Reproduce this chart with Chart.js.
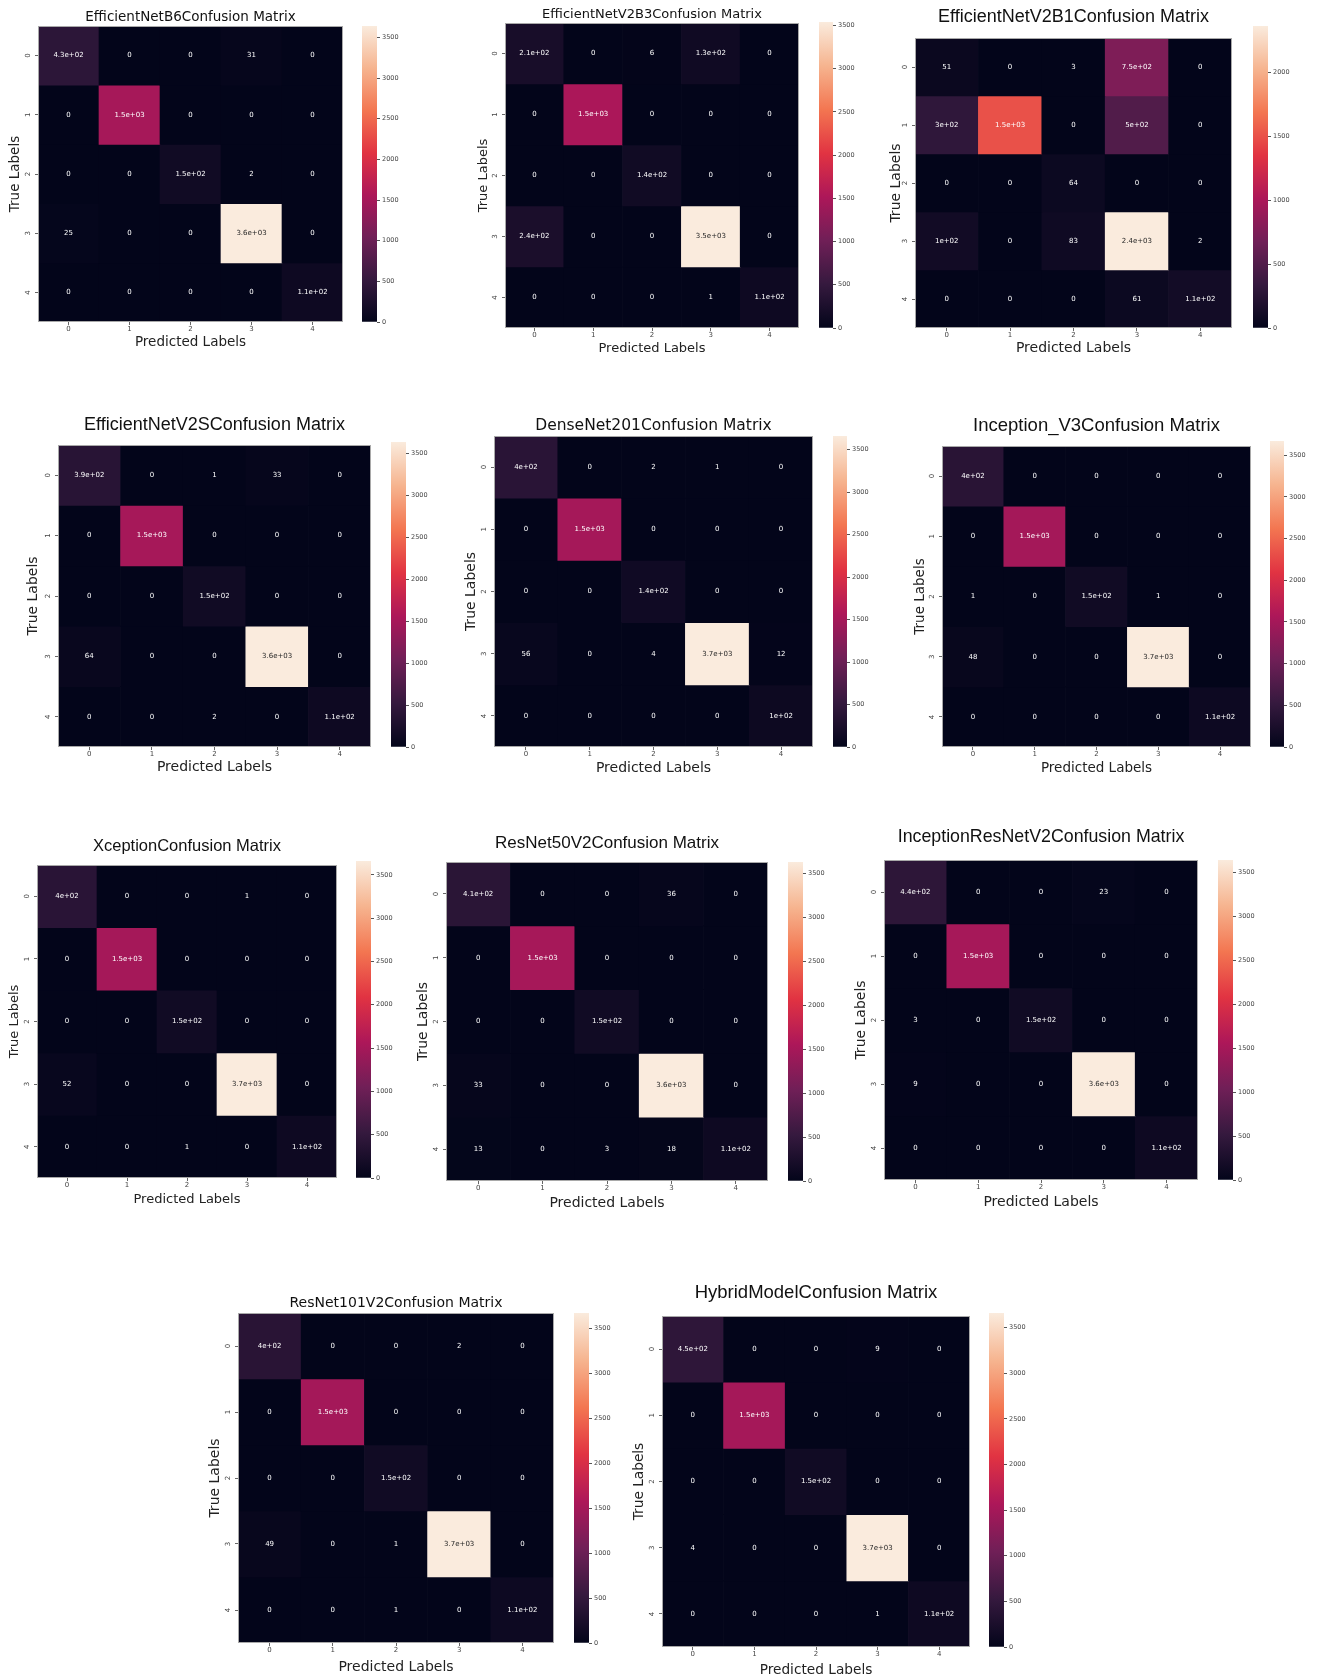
<!DOCTYPE html>
<html>
<head>
<meta charset="utf-8">
<title>Confusion matrices</title>
<script src="https://cdn.jsdelivr.net/npm/chart.js@4.4.1/dist/chart.umd.min.js"></script>
<style>
  html, body { margin: 0; padding: 0; background: #fff; }
  #page { position: relative; width: 1320px; height: 1679px; overflow: hidden; background: #fff; }
  #page canvas { position: absolute; }
</style>
</head>
<body>
<div id="page"></div>
<script>
// class ids on both axes
const classLabels = ['0', '1', '2', '3', '4'];
const colorbarStep = 500;

// rows = true label, columns = predicted label
const efficientNetB6 = [
    [430, 0, 0, 31, 0],
    [0, 1500, 0, 0, 0],
    [0, 0, 150, 2, 0],
    [25, 0, 0, 3640, 0],
    [0, 0, 0, 0, 110]
];
const efficientNetV2B3 = [
    [210, 0, 6, 130, 0],
    [0, 1500, 0, 0, 0],
    [0, 0, 140, 0, 0],
    [240, 0, 0, 3540, 0],
    [0, 0, 0, 1, 110]
];
const efficientNetV2B1 = [
    [51, 0, 3, 750, 0],
    [300, 1500, 0, 500, 0],
    [0, 0, 64, 0, 0],
    [100, 0, 83, 2360, 2],
    [0, 0, 0, 61, 110]
];
const efficientNetV2S = [
    [390, 0, 1, 33, 0],
    [0, 1500, 0, 0, 0],
    [0, 0, 150, 0, 0],
    [64, 0, 0, 3640, 0],
    [0, 0, 2, 0, 110]
];
const denseNet201 = [
    [400, 0, 2, 1, 0],
    [0, 1500, 0, 0, 0],
    [0, 0, 140, 0, 0],
    [56, 0, 4, 3660, 12],
    [0, 0, 0, 0, 100]
];
const inceptionV3 = [
    [400, 0, 0, 0, 0],
    [0, 1500, 0, 0, 0],
    [1, 0, 150, 1, 0],
    [48, 0, 0, 3670, 0],
    [0, 0, 0, 0, 110]
];
const xception = [
    [400, 0, 0, 1, 0],
    [0, 1500, 0, 0, 0],
    [0, 0, 150, 0, 0],
    [52, 0, 0, 3660, 0],
    [0, 0, 1, 0, 110]
];
const resNet50V2 = [
    [410, 0, 0, 36, 0],
    [0, 1500, 0, 0, 0],
    [0, 0, 150, 0, 0],
    [33, 0, 0, 3630, 0],
    [13, 0, 3, 18, 110]
];
const inceptionResNetV2 = [
    [440, 0, 0, 23, 0],
    [0, 1500, 0, 0, 0],
    [3, 0, 150, 0, 0],
    [9, 0, 0, 3640, 0],
    [0, 0, 0, 0, 110]
];
const resNet101V2 = [
    [400, 0, 0, 2, 0],
    [0, 1500, 0, 0, 0],
    [0, 0, 150, 0, 0],
    [49, 0, 1, 3670, 0],
    [0, 0, 1, 0, 110]
];
const hybridModel = [
    [450, 0, 0, 9, 0],
    [0, 1500, 0, 0, 0],
    [0, 0, 150, 0, 0],
    [4, 0, 0, 3660, 0],
    [0, 0, 0, 1, 110]
];

const modelNames = ['EfficientNetB6', 'EfficientNetV2B3', 'EfficientNetV2B1', 'EfficientNetV2S', 'DenseNet201',
    'Inception_V3', 'Xception', 'ResNet50V2', 'InceptionResNetV2', 'ResNet101V2', 'HybridModel'];
const matrices = [efficientNetB6, efficientNetV2B3, efficientNetV2B1, efficientNetV2S, denseNet201,
    inceptionV3, xception, resNet50V2, inceptionResNetV2, resNet101V2, hybridModel];

// where each panel sits on the page: heatmap box and colorbar box are [x, y, w, h]
const DEJAVU = 'DejaVu Sans';
const ARIAL = 'Liberation Sans';
const layout = [
    { box: [38, 26, 305, 296], bar: [362, 26, 15, 296], titleY: 17, xLabelY: 342, yLabelX: 15, titleFont: DEJAVU, titleSize: 13.5, axisSize: 13.5 },
    { box: [505, 23, 294, 305], bar: [819, 22, 14, 306], titleY: 15, xLabelY: 349, yLabelX: 484, titleFont: DEJAVU, titleSize: 13, axisSize: 13 },
    { box: [915, 38, 317, 290], bar: [1253, 26, 15, 302], titleY: 17, xLabelY: 348, yLabelX: 896, titleFont: ARIAL, titleSize: 18, axisSize: 14 },
    { box: [58, 445, 313, 302], bar: [391, 442, 15, 305], titleY: 425, xLabelY: 767, yLabelX: 33, titleFont: ARIAL, titleSize: 18, axisSize: 14 },
    { box: [494, 436, 319, 311], bar: [833, 436, 14, 311], titleY: 426, xLabelY: 768, yLabelX: 471, titleFont: DEJAVU, titleSize: 15.5, axisSize: 14 },
    { box: [942, 446, 309, 301], bar: [1270, 441, 14, 306], titleY: 426, xLabelY: 768, yLabelX: 920, titleFont: ARIAL, titleSize: 18.5, axisSize: 13.5 },
    { box: [37, 865, 300, 313], bar: [356, 861, 15, 317], titleY: 846, xLabelY: 1200, yLabelX: 15, titleFont: ARIAL, titleSize: 16.5, axisSize: 13 },
    { box: [446, 862, 322, 319], bar: [788, 862, 15, 319], titleY: 843, xLabelY: 1203, yLabelX: 423, titleFont: ARIAL, titleSize: 17, axisSize: 14 },
    { box: [884, 860, 314, 320], bar: [1218, 860, 15, 320], titleY: 837, xLabelY: 1202, yLabelX: 861, titleFont: ARIAL, titleSize: 17.8, axisSize: 14 },
    { box: [238, 1313, 316, 330], bar: [574, 1313, 15, 330], titleY: 1303, xLabelY: 1667, yLabelX: 215, titleFont: DEJAVU, titleSize: 14, axisSize: 14 },
    { box: [662, 1316, 308, 331], bar: [989, 1313, 15, 334], titleY: 1293, xLabelY: 1670, yLabelX: 639, titleFont: ARIAL, titleSize: 18.5, axisSize: 13.7 }
];

// seaborn "rocket" colormap key colours: position, r, g, b
const rocketStops = [
    [0.000, 3, 5, 26],
    [0.143, 53, 25, 62],
    [0.286, 112, 31, 87],
    [0.429, 173, 23, 89],
    [0.571, 225, 51, 66],
    [0.714, 243, 118, 81],
    [0.857, 246, 180, 143],
    [1.000, 250, 235, 221]
];

function rocket(t) {
    t = Math.min(1, Math.max(0, t));
    for (let i = 1; i < rocketStops.length; i++) {
        const [p1, ...c1] = rocketStops[i];
        if (t <= p1) {
            const [p0, ...c0] = rocketStops[i - 1];
            const f = (t - p0) / (p1 - p0);
            return c0.map((v, k) => Math.round(v + (c1[k] - v) * f));
        }
    }
    return rocketStops[rocketStops.length - 1].slice(1);
}

const rgb = c => `rgb(${c[0]}, ${c[1]}, ${c[2]})`;

function luminance(c) {
    const lin = c.map(v => {
        v /= 255;
        return v <= 0.03928 ? v / 12.92 : Math.pow((v + 0.055) / 1.055, 2.4);
    });
    return 0.2126 * lin[0] + 0.7152 * lin[1] + 0.0722 * lin[2];
}

// same output as python's "{:.2g}"
function fmt2g(v) {
    if (v === 0) return '0';
    const exp = Math.floor(Math.log10(Math.abs(v)));
    if (exp >= 2 || exp < -4) {
        const m = (v / Math.pow(10, exp)).toFixed(1).replace(/\.0$/, '');
        return m + 'e' + (exp < 0 ? '-' : '+') + String(Math.abs(exp)).padStart(2, '0');
    }
    return String(Number(v.toPrecision(2)));
}

Chart.defaults.font.family = '"DejaVu Sans"';
Chart.defaults.color = '#444';

const page = document.getElementById('page');

function addCanvas(x, y, w, h) {
    const c = document.createElement('canvas');
    c.width = w;
    c.height = h;
    c.style.left = x + 'px';
    c.style.top = y + 'px';
    c.style.width = w + 'px';
    c.style.height = h + 'px';
    page.appendChild(c);
    return c;
}

// writes the count in every cell and the thin frame round the heatmap
function cellTextPlugin(matrix, vmax) {
    return {
        id: 'cellText',
        afterDatasetsDraw(chart) {
            const { ctx, chartArea: a } = chart;
            ctx.save();
            ctx.font = '7px "DejaVu Sans"';
            ctx.textAlign = 'center';
            ctx.textBaseline = 'middle';
            matrix.forEach((row, r) => {
                chart.getDatasetMeta(r).data.forEach((bar, c) => {
                    ctx.fillStyle = luminance(rocket(row[c] / vmax)) > 0.408 ? '#262626' : '#ffffff';
                    ctx.fillText(fmt2g(row[c]), bar.x, (bar.y + bar.base) / 2);
                });
            });
            ctx.strokeStyle = '#a9a9a9';
            ctx.lineWidth = 1;
            ctx.strokeRect(a.left + 0.5, a.top + 0.5, a.width - 1, a.height - 1);
            ctx.restore();
        }
    };
}

function drawMatrix(name, matrix, spec) {
    const [hx, hy, hw, hh] = spec.box;
    const vmax = Math.max(...matrix.flat());
    const lhT = spec.titleSize * 1.2;
    const lhA = spec.axisSize * 1.2;

    const left = Math.floor(spec.yLabelX - lhA / 2);
    const top = Math.floor(spec.titleY - lhT / 2) - 1;
    const right = hx + hw + 1;
    const bottom = Math.ceil(spec.xLabelY + lhA / 2);

    const yAxisWidth = hx - left;
    const xAxisHeight = bottom - (hy + hh);
    const titlePadTop = spec.titleY - top - lhT / 2;
    const titlePadBottom = Math.max(0, hy - spec.titleY - lhT / 2);

    const canvas = addCanvas(left, top, right - left, bottom - top);

    // one dataset per true-label row; each cell is a floating bar spanning row ± 0.5
    const datasets = matrix.map((row, r) => ({
        data: classLabels.map(() => [r - 0.5, r + 0.5]),
        backgroundColor: row.map(v => rgb(rocket(v / vmax))),
        borderWidth: 0,
        barPercentage: 1,
        categoryPercentage: 1,
        grouped: false
    }));

    const tickGrid = { display: true, drawOnChartArea: false, drawTicks: true, tickLength: 3, color: '#666', offset: false };

    new Chart(canvas, {
        type: 'bar',
        data: { labels: classLabels, datasets },
        options: {
            responsive: false,
            animation: false,
            devicePixelRatio: 1,
            layout: { autoPadding: false, padding: { right: 1 } },
            plugins: {
                legend: { display: false },
                tooltip: { enabled: false },
                title: {
                    display: true,
                    text: name + 'Confusion Matrix',
                    fullSize: false,
                    color: '#111',
                    font: { family: spec.titleFont, size: spec.titleSize, weight: 'normal', lineHeight: 1.2 },
                    padding: { top: titlePadTop, bottom: titlePadBottom }
                }
            },
            scales: {
                x: {
                    type: 'category',
                    grid: tickGrid,
                    border: { display: false },
                    ticks: { font: { size: 7 }, color: '#444', padding: 0, maxRotation: 0 },
                    title: {
                        display: true,
                        text: 'Predicted Labels',
                        color: '#222',
                        font: { size: spec.axisSize, lineHeight: 1.2 },
                        padding: { top: 0, bottom: bottom - spec.xLabelY - lhA / 2 }
                    },
                    afterFit: s => { s.height = xAxisHeight; }
                },
                y: {
                    type: 'linear',
                    min: -0.5,
                    max: classLabels.length - 0.5,
                    reverse: true,
                    grid: tickGrid,
                    border: { display: false },
                    afterBuildTicks: s => { s.ticks = classLabels.map((_, i) => ({ value: i })); },
                    ticks: {
                        font: { size: 7 },
                        color: '#444',
                        padding: 5,
                        minRotation: 90,
                        maxRotation: 90,
                        crossAlign: 'center',
                        callback: v => classLabels[v]
                    },
                    title: {
                        display: true,
                        text: 'True Labels',
                        color: '#222',
                        font: { size: spec.axisSize, lineHeight: 1.2 },
                        padding: { top: spec.yLabelX - left - lhA / 2, bottom: 0 }
                    },
                    afterFit: s => { s.width = yAxisWidth; }
                }
            }
        },
        plugins: [cellTextPlugin(matrix, vmax)]
    });

    drawColorbar(vmax, spec.bar);
}

function drawColorbar(vmax, bar) {
    const [x, y, w, h] = bar;
    const canvas = addCanvas(x, y - 6, w + 30, h + 12);

    // ticks every colorbarStep from 0 up to the largest count
    const barTicks = [];
    for (let v = 0; v <= vmax; v += colorbarStep) barTicks.push({ value: v });

    new Chart(canvas, {
        type: 'bar',
        data: {
            labels: [''],
            datasets: [{
                data: [[0, vmax]],
                backgroundColor(ctx) {
                    const area = ctx.chart.chartArea;
                    if (!area) return rgb(rocket(0.5));
                    const g = ctx.chart.ctx.createLinearGradient(0, area.bottom, 0, area.top);
                    rocketStops.forEach(([t, ...c]) => g.addColorStop(t, rgb(c)));
                    return g;
                },
                borderWidth: 0,
                barPercentage: 1,
                categoryPercentage: 1
            }]
        },
        options: {
            responsive: false,
            animation: false,
            devicePixelRatio: 1,
            layout: { autoPadding: false, padding: { top: 6, bottom: 6, left: 0, right: 0 } },
            plugins: { legend: { display: false }, tooltip: { enabled: false } },
            scales: {
                x: { display: false },
                y: {
                    position: 'right',
                    min: 0,
                    max: vmax,
                    grid: { drawOnChartArea: false, drawTicks: true, tickLength: 3, color: '#555' },
                    border: { display: false },
                    afterBuildTicks: s => { s.ticks = barTicks.map(t => ({ value: t.value })); },
                    ticks: {
                        autoSkip: false,
                        font: { size: 6.5 },
                        color: '#444',
                        padding: 2,
                        callback: v => String(v)
                    },
                    afterFit: s => { s.width = 30; }
                }
            }
        }
    });
}

modelNames.forEach((name, i) => drawMatrix(name, matrices[i], layout[i]));
</script>
</body>
</html>
